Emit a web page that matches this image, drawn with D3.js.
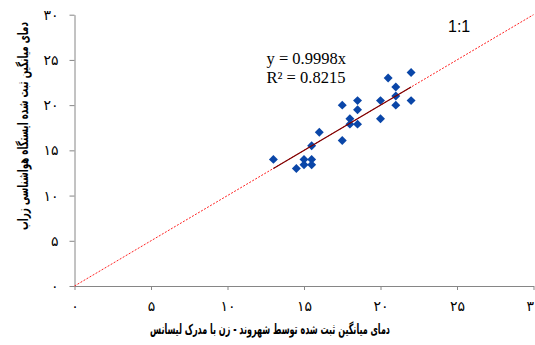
<!DOCTYPE html>
<html><head><meta charset="utf-8">
<script src="https://cdn.jsdelivr.net/npm/d3@7"></script>
<style>body{margin:0;background:#fff}svg{display:block}</style>
</head><body>
<svg id="c" width="535" height="345"></svg>
<script>
const xValues = [13.0, 14.5, 15.0, 15.0, 15.5, 15.5, 15.5, 16.0, 17.5, 17.5, 18.0, 18.0, 18.5, 18.5, 18.5, 20.0, 20.0, 20.5, 21.0, 21.0, 21.0, 22.0, 22.0];
const yValues = [14.0, 13.0, 14.0, 13.4, 14.0, 13.4, 15.5, 17.0, 20.0, 16.1, 18.5, 17.9, 20.5, 19.5, 17.9, 20.5, 18.5, 23.0, 22.0, 21.0, 20.0, 23.6, 20.5];
const tickValues = [0, 5, 10, 15, 20, 25, 30];
const slope = 0.9998;
const eqText = ["y = 0.9998x", "R² = 0.8215"];
const ratioLabel = "1:1";
const xTitle = "دمای میانگین ثبت شده توسط شهروند - زن با مدرک لیسانس";
const yTitle = "دمای میانگین ثبت شده ایستگاه هواشناسی زراب";

const fa = n => String(n).replace(/\d/g, d => "۰۱۲۳۴۵۶۷۸۹"[d]);
const svg = d3.select("#c");
const x = d3.scaleLinear().domain([0, 30]).range([74.5, 533.5]);
const y = d3.scaleLinear().domain([0, 30]).range([286, 14.7]);
const axisColor = "#868686";

const gx = svg.append("g").attr("transform", `translate(0,${y(0)})`)
  .call(d3.axisBottom(x).tickValues(tickValues).tickSize(4).tickPadding(11).tickFormat(fa).tickSizeOuter(0));
const gy = svg.append("g").attr("transform", `translate(${x(0)},0)`)
  .call(d3.axisLeft(y).tickValues(tickValues).tickSize(5).tickPadding(11).tickFormat(fa).tickSizeOuter(0));
[gx, gy].forEach(g => {
  g.select(".domain").attr("stroke", axisColor);
  g.selectAll(".tick line").attr("stroke", axisColor);
  g.selectAll(".tick text").attr("fill", "#000").style("font-family", "DejaVu Sans").style("font-size", "14px");
});

// 1:1 line
svg.append("line").attr("x1", x(0)).attr("y1", y(0)).attr("x2", x(30)).attr("y2", y(30))
  .attr("stroke", "#ff2020").attr("stroke-width", 1).attr("stroke-dasharray", "2,1.5");

// points
const pts = xValues.map((v, i) => [v, yValues[i]]);
svg.append("g").selectAll("path").data(pts).join("path")
  .attr("d", d3.symbol(d3.symbolSquare, 40))
  .attr("transform", d => `translate(${x(d[0])},${y(d[1])}) rotate(45)`)
  .attr("fill", "#0a46a8");

// trendline
const xmin = d3.min(xValues), xmax = d3.max(xValues);
svg.append("line").attr("x1", x(xmin)).attr("y1", y(slope * xmin)).attr("x2", x(xmax)).attr("y2", y(slope * xmax))
  .attr("stroke", "#7a0000").attr("stroke-width", 1.2);

// equation
svg.append("g").selectAll("text").data(eqText).join("text")
  .attr("x", 266.5).attr("y", (d, i) => 64 + i * 19)
  .style("font-family", "Liberation Serif").style("font-size", "16.5px").text(d => d);

svg.append("text").attr("x", 448).attr("y", 32)
  .style("font-family", "Liberation Sans").style("font-size", "16px").text(ratioLabel);

// axis titles
const xt = svg.append("text").attr("x", 270).attr("y", 334).attr("text-anchor", "middle")
  .attr("direction", "rtl").attr("textLength", 240).attr("lengthAdjust", "spacingAndGlyphs")
  .style("font-family", "DejaVu Sans").style("font-weight", "bold").style("font-size", "14px").text(xTitle);
const yt = svg.append("text").attr("transform", "translate(28,126) rotate(-90)").attr("text-anchor", "middle")
  .attr("direction", "rtl").attr("textLength", 208).attr("lengthAdjust", "spacingAndGlyphs")
  .style("font-family", "DejaVu Sans").style("font-weight", "bold").style("font-size", "14px").text(yTitle);
</script>
</body></html>
